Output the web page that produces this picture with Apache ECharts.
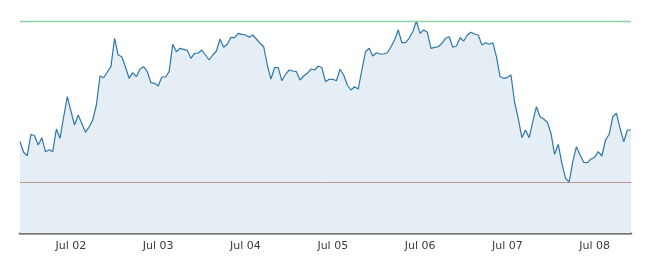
<!DOCTYPE html>
<html>
<head>
<meta charset="utf-8">
<script src="https://cdn.jsdelivr.net/npm/echarts@6/dist/echarts.min.js"></script>
<style>html,body{margin:0;padding:0;background:#fff;}#c{width:650px;height:258px;}</style>
</head>
<body>
<div id="c"></div>
<script>
// Hourly readings starting Jul 01 10:00
const startDay = 1, startHour = 10;
const values = [
 9.13, 8.07, 7.73, 9.87, 9.73, 8.80, 9.53, 8.13, 8.33, 8.13,
 10.40, 9.47, 11.60, 13.63, 12.20, 10.80, 11.80, 10.95, 10.07, 10.60,
 11.30, 12.80, 15.70, 15.53, 16.10, 16.63, 19.47, 17.80, 17.63, 16.60,
 15.47, 16.03, 15.63, 16.40, 16.63, 16.13, 15.03, 14.97, 14.70, 15.60,
 15.60, 16.13, 18.87, 18.13, 18.47, 18.37, 18.27, 17.47, 17.97, 18.00,
 18.30, 17.80, 17.30, 17.80, 18.20, 19.40, 18.57, 18.87, 19.57, 19.53,
 19.97, 19.87, 19.80, 19.57, 19.80, 19.40, 18.97, 18.63, 16.80, 15.40,
 16.53, 16.53, 15.23, 15.87, 16.30, 16.20, 16.13, 15.30, 15.70, 15.97,
 16.40, 16.30, 16.70, 16.53, 15.13, 15.37, 15.37, 15.23, 16.37, 15.80,
 14.80, 14.30, 14.63, 14.40, 16.30, 18.13, 18.47, 17.70, 18.03, 17.90,
 17.90, 18.03, 18.63, 19.30, 20.30, 19.03, 19.03, 19.47, 20.13, 21.20,
 19.97, 20.30, 20.07, 18.47, 18.57, 18.63, 18.97, 19.47, 19.63, 18.57,
 18.70, 19.53, 19.20, 19.80, 20.07, 19.90, 19.80, 18.80, 19.03, 18.87,
 19.03, 17.63, 15.63, 15.47, 15.57, 15.80, 13.05, 11.47, 9.53, 10.30,
 9.53, 11.13, 12.63, 11.63, 11.40, 11.07, 9.97, 7.87, 8.87, 6.97,
 5.47, 5.10, 7.13, 8.63, 7.80, 7.07, 7.03, 7.40, 7.57, 8.13,
 7.70, 9.30, 9.87, 11.63, 11.97, 10.47, 9.13, 10.30, 10.30
];
const pad = n => (n < 10 ? '0' : '') + n;
const categories = values.map((v, i) => {
  const h = startHour + i;
  const d = startDay + Math.floor(h / 24);
  return 'Jul ' + pad(d) + ' ' + pad(h % 24) + ':00';
});
const maxVal = Math.max(...values);
const minVal = Math.min(...values);

const chart = echarts.init(document.getElementById('c'), null, {renderer: 'canvas'});
chart.setOption({
  animation: false,
  backgroundColor: '#ffffff',
  grid: {left: 20, right: 19, top: 20, bottom: 25, containLabel: false},
  xAxis: {
    type: 'category',
    data: categories,
    boundaryGap: false,
    axisLine: {show: true, lineStyle: {color: '#7a7a7a', width: 2.5}},
    axisTick: {show: false},
    splitLine: {show: false},
    axisLabel: {
      interval: (idx, val) => val.endsWith(' 00:00'),
      formatter: val => val.slice(0, 6),
      color: '#3a3a3a',
      fontFamily: 'DejaVu Sans',
      fontSize: 11,
      margin: 8,
      hideOverlap: false
    }
  },
  yAxis: {
    type: 'value',
    min: 0,
    max: v => v.max + 0.1,
    show: false,
    splitLine: {show: false}
  },
  series: [{
    type: 'line',
    data: values,
    showSymbol: false,
    symbol: 'none',
    smooth: false,
    clip: false,
    lineStyle: {color: '#2f78ab', width: 1.2},
    areaStyle: {color: '#e5edf5', opacity: 1},
    markLine: {
      silent: true,
      symbol: ['none', 'none'],
      label: {show: false},
      emphasis: {disabled: true},
      data: [
        [{coord: [0, maxVal], lineStyle: {color: '#8fd0a2', width: 1.3, type: 'solid', opacity: 1}}, {coord: [values.length - 1, maxVal]}],
        [{coord: [0, minVal], lineStyle: {color: '#bb9590', width: 1, type: 'solid'}}, {coord: [values.length - 1, minVal]}]
      ]
    }
  }]
});
</script>
</body>
</html>
